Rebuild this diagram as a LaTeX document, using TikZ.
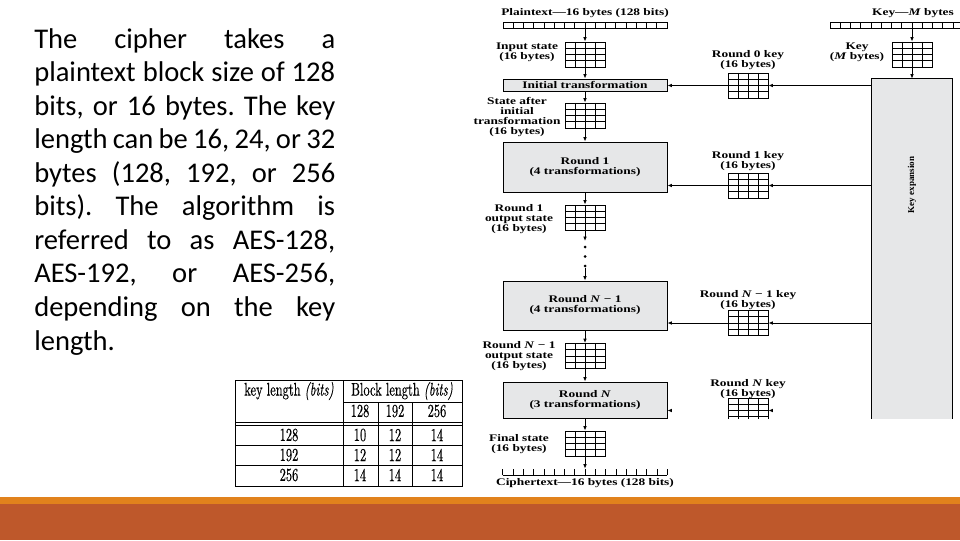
\documentclass[tikz,border=0pt]{standalone}
\usepackage{fontspec}
\newfontfamily\bodyfont{Carlito}
\newfontfamily\figfont[FakeStretch=1.32]{Liberation Serif}
\newfontfamily\sidefont{Liberation Serif}
\newfontfamily\tabfont[FakeStretch=0.68,FakeBold=0.4,ItalicFont=lmroman10-italic.otf]{lmroman10-regular.otf}
\usepackage{xcolor}
\definecolor{SlideRust}{HTML}{BE582B}
\definecolor{SlideOrange}{HTML}{E1821C}
\definecolor{BoxGray}{HTML}{E6E7E8}
\usetikzlibrary{arrows.meta, positioning, calc}

\begin{document}
\begin{tikzpicture}[x=0.025cm, y=-0.025cm,
    lbl/.style={font=\figfont\bfseries\fontsize{7.2}{7.1}\selectfont, align=center, inner sep=0},
    arr/.style={-{Latex[length=3.2pt,width=2.6pt]}, line width=0.6pt},
    roundbox/.style={draw, line width=0.6pt, fill=BoxGray, minimum width=4.1cm, inner sep=0,
      font=\figfont\bfseries\fontsize{7.2}{7.1}\selectfont, align=center},
    bytegrid/.style={draw, line width=0.6pt, minimum width=1cm, minimum height=0.625cm, inner sep=0,
      path picture={
        \foreach \f in {0.25,0.5,0.75}{
          \draw[line width=0.5pt] ($(path picture bounding box.north west)!\f!(path picture bounding box.north east)$)
            -- ($(path picture bounding box.south west)!\f!(path picture bounding box.south east)$);
          \draw[line width=0.5pt] ($(path picture bounding box.north west)!\f!(path picture bounding box.south west)$)
            -- ($(path picture bounding box.north east)!\f!(path picture bounding box.south east)$);
        }}},
    byterow/.style={draw, line width=0.6pt, minimum width=4.1cm, minimum height=0.15cm, inner sep=0,
      path picture={
        \foreach \i [evaluate=\i as \f using \i/16] in {1,...,15}
          \draw[line width=0.5pt] ($(path picture bounding box.north west)!\f!(path picture bounding box.north east)$)
            -- ($(path picture bounding box.south west)!\f!(path picture bounding box.south east)$);
        }},
    tab/.style={font=\tabfont\fontsize{13}{13}\selectfont, inner sep=0}
  ]
  \useasboundingbox (0,0) rectangle (960,540);
  \clip (0,0) rectangle (960,540);

  % text column
  \node[anchor=base west, text width=214pt, align=justify, inner sep=0,
    font=\bodyfont\fontsize{20.3}{23.87}\selectfont] (intro) at (34,48)
    {\hyphenpenalty=10000\exhyphenpenalty=10000\frenchspacing
     The cipher takes a\linebreak plaintext block size of 128\linebreak
     bits, or 16 bytes. The key\linebreak length can be 16, 24, or 32\linebreak
     bytes (128, 192, or 256\linebreak bits). The algorithm is\linebreak
     referred to as AES-128,\linebreak AES-192, or AES-256,\linebreak
     depending on the key\linebreak length.};

  % table of rounds
  \draw[line width=0.5pt] (235,380) rectangle (462,486);
  \draw[line width=0.5pt] (343,380) -- (343,486);
  \draw[line width=0.5pt] (343,402) -- (462,402);
  \draw[line width=0.5pt] (378,402) -- (378,486);
  \draw[line width=0.5pt] (412,402) -- (412,486);
  \foreach \y in {422,425,445,465}
    \draw[line width=0.5pt] (235,\y) -- (462,\y);
  \node[tab] (kl) at (289,391) {key length \textit{(bits)}};
  \node[tab] (bl) at (402,391) {Block length \textit{(bits)}};
  \node[tab] (b128) at (360,411) {128};
  \node[tab] (b192) at (395,411) {192};
  \node[tab] (b256) at (437,411) {256};
  \foreach \kl/\na/\nb/\nc [count=\r] in {128/10/12/14, 192/12/12/14, 256/14/14/14} {
    \node[tab] at (289,415+20*\r) {\kl};
    \node[tab] at (360,415+20*\r) {\na};
    \node[tab] at (395,415+20*\r) {\nb};
    \node[tab] at (437,415+20*\r) {\nc};
  }

  % encryption column
  \node[lbl] (ptlbl) at (585,13) {Plaintext—16 bytes (128 bits)};
  \node[byterow] (pt) at (585,25) {};
  \node[bytegrid] (inst) at (585,54.5) {};
  \node[lbl] (instlbl) at (527,52.5) {Input state\\(16 bytes)};
  \node[roundbox, minimum height=0.3cm] (init) at (585,85) {Initial transformation};
  \node[bytegrid] (sinit) at (585,115.5) {};
  \node[lbl] (sinitlbl) at (517,117) {State after\\initial\\transformation\\(16 bytes)};
  \node[roundbox, minimum height=1.25cm] (r1) at (585,167) {Round 1\\(4 transformations)};
  \node[bytegrid] (r1out) at (585,217.5) {};
  \node[lbl] (r1outlbl) at (519,219.5) {Round 1\\output state\\(16 bytes)};
  \coordinate (dotstop) at (585,241);
  \coordinate (dotsbot) at (585,268);
  \node[roundbox, minimum height=1.225cm] (rN1) at (585,305.5) {Round \textit{N} − 1\\(4 transformations)};
  \node[bytegrid] (rN1out) at (585,356) {};
  \node[lbl] (rN1outlbl) at (519,356.5) {Round \textit{N} − 1\\output state\\(16 bytes)};
  \node[roundbox, minimum height=0.9cm] (rN) at (585,400) {Round \textit{N}\\(3 transformations)};
  \node[bytegrid] (final) at (585,443.5) {};
  \node[lbl] (finallbl) at (519,444) {Final state\\(16 bytes)};
  \node[minimum width=4.1cm, minimum height=0.15cm, inner sep=0] (ct) at (585,472) {};
  \draw[line width=0.6pt] (ct.south west) -- (ct.south east);
  \foreach \i [evaluate=\i as \f using \i/16] in {0,...,16}
    \draw[line width=0.5pt] ($(ct.south west)!\f!(ct.south east)$) -- ($(ct.north west)!\f!(ct.north east)$);
  \node[lbl] (ctlbl) at (585,483.5) {Ciphertext—16 bytes (128 bits)};

  \draw[arr] (pt.south) -- (inst.north);
  \draw[arr] (inst.south) -- (init.north);
  \draw[arr] (init.south) -- (sinit.north);
  \draw[arr] (sinit.south) -- (r1.north);
  \draw[arr] (r1.south) -- (r1out.north);
  \draw[arr] (r1out.south) -- (dotstop);
  \foreach \y in {247,256.5,266}
    \fill (585,\y) circle (1.5);
  \draw[arr] (dotsbot) -- (rN1.north);
  \draw[arr] (rN1.south) -- (rN1out.north);
  \draw[arr] (rN1out.south) -- (rN.north);
  \draw[arr] (rN.south) -- (final.north);
  \draw[arr] (final.south) -- (ct.north);

  % key schedule
  \node[lbl] (keylbl) at (913,13) {Key—\textit{M} bytes};
  \node[byterow] (key) at (912,25) {};
  \node[bytegrid] (keyst) at (912,54.5) {};
  \node[lbl] (keystlbl) at (857,52.5) {Key\\(\textit{M} bytes)};
  \node[lbl] (rk0lbl) at (748,60) {Round 0 key\\(16 bytes)};
  \node[bytegrid] (rk0) at (748,85.5) {};
  \node[lbl] (rk1lbl) at (748,161.5) {Round 1 key\\(16 bytes)};
  \node[bytegrid] (rk1) at (748,185.5) {};
  \node[lbl] (rkN1lbl) at (748,300.5) {Round \textit{N} − 1 key\\(16 bytes)};
  \node[bytegrid] (rkN1) at (748,323) {};
  \node[lbl] (rkNlbl) at (748,389) {Round \textit{N} key\\(16 bytes)};
  \begin{scope}
    \clip (600,0) rectangle (960,418);
    \node[fill=BoxGray, minimum width=2cm, minimum height=9cm, inner sep=0] (kexp) at (912,259) {};
    \draw[line width=0.6pt] (kexp.south west) -- (kexp.north west) -- (kexp.north east) -- (kexp.south east);
    \node[bytegrid] (rkN) at (748,410.5) {};
  \end{scope}
  \node[rotate=90, inner sep=0, font=\sidefont\bfseries\fontsize{6.4}{6.4}\selectfont] (kexplbl) at (912,185) {Key expansion};

  \draw[arr] (key.south) -- (keyst.north);
  \draw[arr] (keyst.south) -- (kexp.north);
  \draw[arr] (kexp.west |- rk0.east) -- (rk0.east);
  \draw[arr] (rk0.west) -- (init.east |- rk0.west);
  \draw[arr] (kexp.west |- rk1.east) -- (rk1.east);
  \draw[arr] (rk1.west) -- (r1.east |- rk1.west);
  \draw[arr] (kexp.west |- rkN1.east) -- (rkN1.east);
  \draw[arr] (rkN1.west) -- (rN1.east |- rkN1.west);
  \draw[arr] ([xshift=0.1cm]rkN.east) -- (rkN.east);
  \draw[arr] ([xshift=0.1cm]rN.east |- rkN.west) -- (rN.east |- rkN.west);

  % slide footer
  \fill[SlideOrange] (0,497) rectangle (960,504);
  \fill[SlideRust] (0,504) rectangle (960,540);
\end{tikzpicture}
\end{document}
